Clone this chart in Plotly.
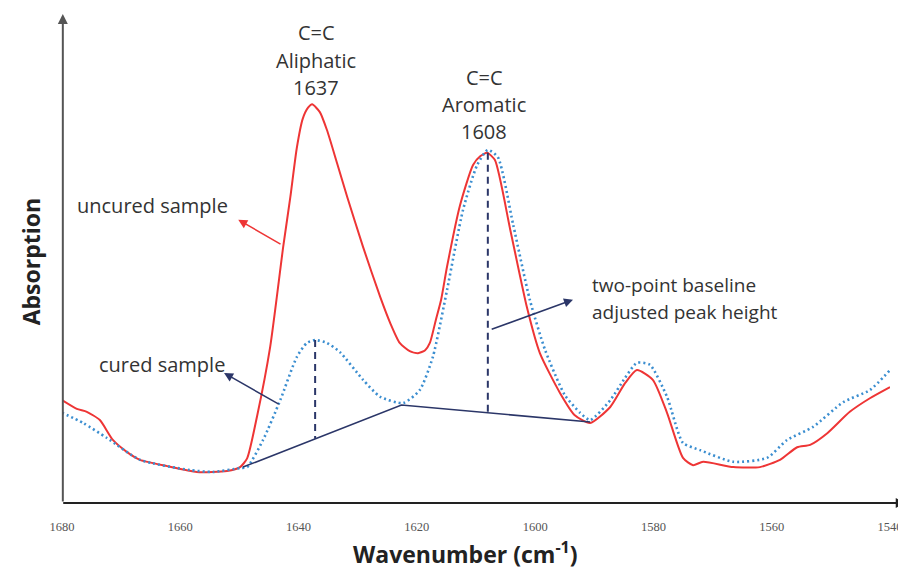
import numpy as np
import plotly.graph_objects as go

# ---- data (absorption in arbitrary units) ----
uncured_wn = [1680.0, 1677.5, 1675.8, 1673.6, 1671.4, 1669.0, 1666.8, 1662.2, 1657.2, 1652.1,
              1649.9, 1648.7, 1647.0, 1644.8, 1642.6, 1641.4, 1640.3, 1639.3, 1638.4, 1637.7,
              1636.4, 1635.2, 1633.5, 1631.8, 1629.1, 1626.2, 1624.5, 1622.9, 1621.2, 1619.8,
              1618.6, 1617.8, 1616.8, 1615.9, 1614.9, 1612.7, 1610.5, 1609.3, 1608.1, 1606.8,
              1604.2, 1601.4, 1599.2, 1595.8, 1593.3, 1590.7, 1587.3, 1584.8, 1582.8, 1580.1,
              1577.7, 1575.0, 1573.3, 1571.6, 1566.5, 1562.0, 1558.6, 1555.7, 1553.5, 1550.6,
              1546.8, 1543.4, 1540.0]
uncured_abs = [0.212, 0.194, 0.188, 0.171, 0.130, 0.105, 0.089, 0.076, 0.064, 0.066,
               0.074, 0.092, 0.180, 0.322, 0.528, 0.630, 0.732, 0.792, 0.815, 0.822,
               0.806, 0.769, 0.701, 0.632, 0.528, 0.425, 0.371, 0.330, 0.313, 0.309,
               0.315, 0.330, 0.377, 0.419, 0.487, 0.614, 0.697, 0.715, 0.722, 0.707,
               0.563, 0.404, 0.309, 0.227, 0.181, 0.165, 0.198, 0.247, 0.274, 0.254,
               0.186, 0.093, 0.078, 0.085, 0.074, 0.074, 0.089, 0.115, 0.120, 0.144,
               0.188, 0.216, 0.239]

cured_wn = [1680.0, 1676.4, 1672.4, 1666.8, 1658.4, 1654.5, 1649.9, 1648.7, 1646.0, 1643.1,
            1640.3, 1638.6, 1637.2, 1635.2, 1633.0, 1629.1, 1626.2, 1622.3, 1619.5, 1617.3,
            1614.9, 1612.2, 1609.8, 1608.0, 1606.3, 1603.7, 1600.9, 1598.3, 1595.0, 1592.4,
            1590.7, 1587.3, 1584.8, 1582.8, 1580.6, 1577.7, 1575.0, 1572.1, 1566.5, 1560.8,
            1557.4, 1553.0, 1547.9, 1543.4, 1540.0]
cured_abs = [0.186, 0.165, 0.134, 0.089, 0.068, 0.064, 0.072, 0.074, 0.130, 0.212,
             0.301, 0.330, 0.336, 0.330, 0.311, 0.254, 0.219, 0.206, 0.233, 0.301,
             0.439, 0.604, 0.697, 0.728, 0.713, 0.573, 0.419, 0.315, 0.223, 0.186,
             0.171, 0.212, 0.258, 0.289, 0.285, 0.219, 0.124, 0.109, 0.085, 0.093,
             0.130, 0.157, 0.208, 0.233, 0.274]

baseline_wn = [1649.4, 1622.6, 1590.7]
baseline_abs = [0.074, 0.202, 0.167]

peak_wn = [1637.2, 1608.0]
peak_abs = [0.336, 0.722]

tick_vals = [1680, 1660, 1640, 1620, 1600, 1580, 1560, 1540]
tick_text = [str(v) for v in tick_vals]

RED = "#ee3535"
BLUE = "#3b8ed0"
NAVY = "#2b3668"
TXT = "#333333"
FONT = "Open Sans"
FS = 20

fig = go.Figure()

fig.add_trace(go.Scatter(x=uncured_wn, y=uncured_abs, mode="lines",
                         line=dict(color=RED, width=2, shape="spline", smoothing=0.6),
                         hoverinfo="skip"))
fig.add_trace(go.Scatter(x=cured_wn, y=cured_abs, mode="lines",
                         line=dict(color=BLUE, width=2.6, dash="2px,3px", shape="spline", smoothing=0.6),
                         hoverinfo="skip"))
fig.add_trace(go.Scatter(x=baseline_wn, y=baseline_abs, mode="lines",
                         line=dict(color=NAVY, width=1.6), hoverinfo="skip"))

# dashed peak-height lines from the peak down to the two-point baseline
base_x = baseline_wn[::-1]
base_y = baseline_abs[::-1]
for pw, pa in zip(peak_wn, peak_abs):
    b = float(np.interp(pw, base_x, base_y))
    fig.add_trace(go.Scatter(x=[pw, pw], y=[pa, b], mode="lines",
                             line=dict(color=NAVY, width=2, dash="7px,5px"),
                             hoverinfo="skip"))

ann = []
# peak labels (one annotation per line to mimic line spacing)
for lines, wn, ys in [(["C=C", "Aliphatic", "1637"], 1637.0, [0.971, 0.913, 0.857]),
                      (["C=C", "Aromatic", "1608"], 1608.6, [0.878, 0.821, 0.765])]:
    for t, yy in zip(lines, ys):
        ann.append(dict(x=wn, y=yy, xref="x", yref="y", text=t, showarrow=False,
                        font=dict(family=FONT, size=FS, color=TXT), xanchor="center", yanchor="middle"))

ann.append(dict(x=1677.8, y=0.614, xref="x", yref="y", text="uncured sample", showarrow=False,
                font=dict(family=FONT, size=FS, color=TXT), xanchor="left", yanchor="middle"))
ann.append(dict(x=1674.1, y=0.285, xref="x", yref="y", text="cured sample", showarrow=False,
                font=dict(family=FONT, size=FS, color=TXT), xanchor="left", yanchor="middle"))
for t, yy in [("two-point baseline", 0.449), ("adjusted peak height", 0.394)]:
    ann.append(dict(x=1590.7, y=yy, xref="x", yref="y", text=t, showarrow=False,
                    font=dict(family=FONT, size=FS - 1, color=TXT), xanchor="left", yanchor="middle"))

# pointer arrows
ann.append(dict(x=1650.2, y=0.584, ax=1642.8, ay=0.532, xref="x", yref="y", axref="x", ayref="y",
                text="", showarrow=True, arrowhead=2, arrowsize=1.2, arrowwidth=1.5, arrowcolor=RED))
ann.append(dict(x=1652.6, y=0.268, ax=1643.1, ay=0.202, xref="x", yref="y", axref="x", ayref="y",
                text="", showarrow=True, arrowhead=2, arrowsize=1.2, arrowwidth=1.5, arrowcolor=NAVY))
ann.append(dict(x=1593.6, y=0.419, ax=1607.6, ay=0.357, xref="x", yref="y", axref="x", ayref="y",
                text="", showarrow=True, arrowhead=2, arrowsize=1.2, arrowwidth=1.5, arrowcolor=NAVY))

# axis arrows
ann.append(dict(x=1.019, y=0, xref="paper", yref="paper", ax=-844, ay=0, axref="pixel", ayref="pixel",
                text="", showarrow=True, arrowhead=2, arrowsize=1, arrowwidth=2, arrowcolor="#222"))
ann.append(dict(x=0.001, y=1.008, xref="paper", yref="paper", ax=0, ay=489, axref="pixel", ayref="pixel",
                text="", showarrow=True, arrowhead=2, arrowsize=1, arrowwidth=2, arrowcolor="#555"))

# axis titles
ann.append(dict(x=-0.037, y=0.497, xref="paper", yref="paper", text="<b>Absorption</b>", textangle=-90,
                showarrow=False, font=dict(family=FONT, size=23, color="#222"),
                xanchor="center", yanchor="middle"))
ann.append(dict(x=0.487, y=-0.103, xref="paper", yref="paper", text="<b>Wavenumber (cm<sup>-1</sup>)</b>",
                showarrow=False, font=dict(family=FONT, size=23, color="#222"),
                xanchor="center", yanchor="middle"))

# the page body has an 8px margin: shift the plot margins by 8px so the plot
# lands where the reference has it
fig.update_layout(
    width=906, height=566, autosize=False,
    margin=dict(l=54, r=24, t=10, b=71),
    plot_bgcolor="white", paper_bgcolor="white",
    showlegend=False,
    annotations=ann,
    xaxis=dict(range=[1680, 1540], tickvals=tick_vals, ticktext=tick_text,
               showgrid=False, zeroline=False, showline=False,
               ticks="outside", ticklen=12, tickcolor="rgba(0,0,0,0)",
               tickfont=dict(family="Liberation Serif", size=12.5, color="#555")),
    yaxis=dict(range=[0, 1], showticklabels=False, showgrid=False, zeroline=False,
               showline=False, ticks=""),
)

fig.write_html("out.html", config={"responsive": False})
